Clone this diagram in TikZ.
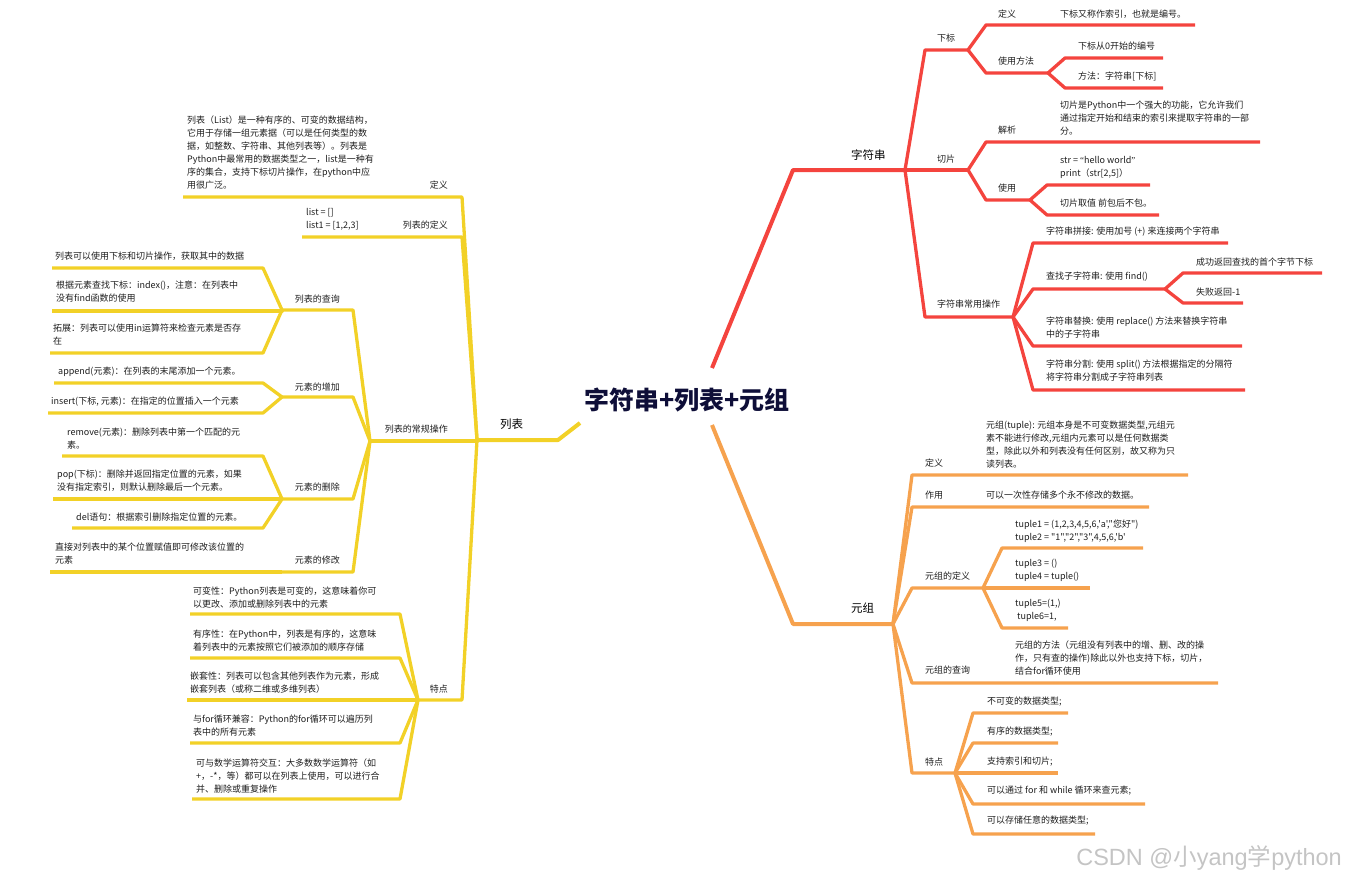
\documentclass[tikz,border=0pt]{standalone}
\usepackage{fontspec}
\setmainfont{Noto Sans CJK SC}
\newfontfamily\plainq{Noto Sans CJK SC}
\newfontfamily\wmfont{Liberation Sans}
\newfontfamily\qfont{Liberation Serif}
\definecolor{cR}{HTML}{F4443E}
\definecolor{cO}{HTML}{F6A24E}
\definecolor{cY}{HTML}{F2D127}
\definecolor{cT}{HTML}{1E1E1E}
\definecolor{cH}{HTML}{0E0E38}
\definecolor{cW}{HTML}{C4C4C4}
\newcommand\mmline[6]{\coordinate (#2-s) at (#3,#4);\coordinate (#2-e) at (#5,#4);\draw[#1] (#6) -- (#2-s) -- (#2-e);}
\tikzset{
  rl/.style={draw=cR, line width=3.3pt, line join=round},
  rm/.style={rl, line width=4pt},
  ol/.style={draw=cO, line width=3.3pt, line join=round},
  om/.style={ol, line width=4pt},
  yl/.style={draw=cY, line width=3.3pt, line join=round},
  ym/.style={yl, line width=4pt},
  txt/.style={text=cT, font=\fontsize{9}{13}\selectfont, inner sep=0pt, anchor=west, align=left},
  txl/.style={txt, anchor=east, align=right},
  tb/.style={txt, text=black, font=\fontsize{11.5}{14}\selectfont},
}
\begin{document}
\begin{tikzpicture}[x=1pt,y=-1pt]
\useasboundingbox (0,0) rectangle (1346,880);
\node[font=\bfseries\fontsize{25}{25}\selectfont, text=cH, inner sep=0pt] (T) at (687,400) {字符串+列表+元组};
% ===== red: 字符串 =====
\coordinate (R0) at (712,368); \coordinate (R1) at (793,170); \coordinate (R-e) at (905,170);
\draw[rm] (R0) -- (R1) -- (R-e);
\node[tb] (R-l) at (851,155) {字符串};
\mmline{rl}{Rxb}{925}{50}{968}{R-e}
\node[txt] (Rxb-l) at (937,38) {下标};
\mmline{rl}{Rxbdy}{986}{25}{1195}{Rxb-e}
\node[txt] (Rxbdy-l) at (998,14) {定义};
\node[txt] (Rxbdy-t) at (1060,14) {下标又称作索引，也就是编号。};
\mmline{rl}{Rxbff}{986}{73}{1048}{Rxb-e}
\node[txt] (Rxbff-l) at (998,61) {使用方法};
\mmline{rl}{Rxbff1}{1065}{58}{1163}{Rxbff-e}
\node[txt] (Rxbff1-t) at (1078,46) {下标从0开始的编号};
\mmline{rl}{Rxbff2}{1065}{88}{1163}{Rxbff-e}
\node[txt] (Rxbff2-t) at (1078,76) {方法：字符串[下标]};
\mmline{rl}{Rqp}{925}{170}{968}{R-e}
\node[txt] (Rqp-l) at (937,159) {切片};
\mmline{rl}{Rqpjx}{986}{142}{1260}{Rqp-e}
\node[txt] (Rqpjx-l) at (998,130) {解析};
\node[txt] (Rqpjx-t) at (1060,118.5) {切片是Python中一个强大的功能，它允许我们\\通过指定开始和结束的索引来提取字符串的一部\\分。};
\mmline{rl}{Rqpsy}{986}{200}{1030}{Rqp-e}
\node[txt] (Rqpsy-l) at (998,188) {使用};
\mmline{rl}{Rqpsy1}{1047}{185}{1150}{Rqpsy-e}
\node[txt] (Rqpsy1-t) at (1060,167) {str = {\qfont “}hello world{\qfont ”}\\print（str[2,5]）};
\mmline{rl}{Rqpsy2}{1047}{215}{1159}{Rqpsy-e}
\node[txt] (Rqpsy2-t) at (1060,203) {切片取值 前包后不包。};
\mmline{rl}{Rcy}{925}{317}{1013}{R-e}
\node[txt] (Rcy-l) at (937,304) {字符串常用操作};
\mmline{rl}{Rcy1}{1033}{243}{1228}{Rcy-e}
\node[txt] (Rcy1-t) at (1046,232) {字符串拼接: 使用加号 (+) 来连接两个字符串};
\mmline{rl}{Rcy2}{1033}{289}{1165}{Rcy-e}
\node[txt] (Rcy2-t) at (1046,277) {查找子字符串: 使用 find()};
\mmline{rl}{Rcy21}{1183}{273}{1322}{Rcy2-e}
\node[txt] (Rcy21-t) at (1196,262) {成功返回查找的首个字节下标};
\mmline{rl}{Rcy22}{1183}{303}{1243}{Rcy2-e}
\node[txt] (Rcy22-t) at (1196,292) {失败返回-1};
\mmline{rl}{Rcy3}{1033}{346}{1242}{Rcy-e}
\node[txt] (Rcy3-t) at (1046,328) {字符串替换: 使用 replace() 方法来替换字符串\\中的子字符串};
\mmline{rl}{Rcy4}{1033}{390}{1245}{Rcy-e}
\node[txt] (Rcy4-t) at (1046,371) {字符串分割: 使用 split() 方法根据指定的分隔符\\将字符串分割成子字符串列表};
% ===== orange: 元组 =====
\coordinate (O0) at (712,425); \coordinate (O1) at (793,624); \coordinate (O-e) at (893,624);
\draw[om] (O0) -- (O1) -- (O-e);
\node[tb] (O-l) at (851,608) {元组};
\mmline{ol}{Ody}{912}{475}{1188}{O-e}
\node[txt] (Ody-l) at (925,463) {定义};
\node[txt] (Ody-t) at (986,444.5) {元组(tuple): 元组本身是不可变数据类型,元组元\\素不能进行修改,元组内元素可以是任何数据类\\型，除此以外和列表没有任何区别，故又称为只\\读列表。};
\mmline{ol}{Ozy}{912}{507}{1149}{O-e}
\node[txt] (Ozy-l) at (925,495) {作用};
\node[txt] (Ozy-t) at (986,495) {可以一次性存储多个永不修改的数据。};
\mmline{ol}{Odf}{912}{588}{983}{O-e}
\node[txt] (Odf-l) at (925,576) {元组的定义};
\mmline{ol}{Odf1}{1002}{548}{1143}{Odf-e}
\node[txt, font=\plainq\fontsize{9}{13}\selectfont] (Odf1-t) at (1015,531) {tuple1 = (1,2,3,4,5,6,'a',"您好")\\tuple2 = "1","2","3",4,5,6,'b'};
\mmline{ol}{Odf2}{1000}{588}{1090}{Odf-e}
\node[txt] (Odf2-t) at (1015,570) {tuple3 = ()\\tuple4 = tuple()};
\mmline{ol}{Odf3}{1002}{628}{1068}{Odf-e}
\node[txt] (Odf3-t) at (1015,610) {tuple5=(1,)\\ \ tuple6=1,};
\mmline{ol}{Ocx}{912}{683}{1218}{O-e}
\node[txt] (Ocx-l) at (925,670) {元组的查询};
\node[txt] (Ocx-t) at (1015,658) {元组的方法（元组没有列表中的增、删、改的操\\作，只有查的操作)除此以外也支持下标，切片，\\结合for循环使用};
\mmline{ol}{Otd}{912}{773}{955}{O-e}
\node[txt] (Otd-l) at (925,762) {特点};
\mmline{ol}{Otd1}{973}{713}{1068}{Otd-e}
\node[txt] (Otd1-t) at (987,702) {不可变的数据类型;};
\mmline{ol}{Otd2}{973}{743}{1058}{Otd-e}
\node[txt] (Otd2-t) at (987,732) {有序的数据类型;};
\mmline{ol}{Otd3}{973}{773}{1058}{Otd-e}
\node[txt] (Otd3-t) at (987,762) {支持索引和切片;};
\mmline{ol}{Otd4}{973}{804}{1145}{Otd-e}
\node[txt] (Otd4-t) at (987,791) {可以通过 for 和 while 循环来查元素;};
\mmline{ol}{Otd5}{973}{834}{1095}{Otd-e}
\node[txt] (Otd5-t) at (987,821) {可以存储任意的数据类型;};
% ===== yellow: 列表 =====
\coordinate (Y0) at (580,423); \coordinate (Y1) at (558,440); \coordinate (Y-e) at (477,440);
\draw[ym] (Y0) -- (Y1) -- (Y-e);
\node[tb] (Y-l) at (500,424) {列表};
\mmline{yl}{Ydy}{462}{197}{183}{Y-e}
\node[txl] (Ydy-l) at (448,185) {定义};
\node[txt] (Ydy-t) at (187,153) {列表（List）是一种有序的、可变的数据结构，\\它用于存储一组元素据（可以是任何类型的数\\据，如整数、字符串、其他列表等）。列表是\\Python中最常用的数据类型之一，list是一种有\\序的集合，支持下标切片操作，在python中应\\用很广泛。};
\mmline{yl}{Ylb}{462}{237}{302}{Y-e}
\node[txl] (Ylb-l) at (448,225) {列表的定义};
\node[txt] (Ylb-t) at (306,219) {list = []\\list1 = [1,2,3]};
\mmline{yl}{Ycg}{477}{441}{370}{Y-e}
\node[txl] (Ycg-l) at (448,429) {列表的常规操作};
\mmline{yl}{Ycx}{353}{310}{282}{Ycg-e}
\node[txl] (Ycx-l) at (340,299) {列表的查询};
\mmline{yl}{Ycx1}{263}{268}{52}{Ycx-e}
\node[txt] (Ycx1-t) at (55,256) {列表可以使用下标和切片操作，获取其中的数据};
\mmline{yl}{Ycx2}{282}{311}{52}{Ycx-e}
\node[txt] (Ycx2-t) at (56,291.5) {根据元素查找下标：index()，注意：在列表中\\没有find函数的使用};
\mmline{yl}{Ycx3}{263}{353}{50}{Ycx-e}
\node[txt] (Ycx3-t) at (53,334.5) {拓展：列表可以使用in运算符来检查元素是否存\\在};
\mmline{yl}{Yzj}{353}{397}{282}{Ycg-e}
\node[txl] (Yzj-l) at (340,387) {元素的增加};
\mmline{yl}{Yzj1}{263}{383}{54}{Yzj-e}
\node[txt] (Yzj1-t) at (58,372) {append(元素)：在列表的末尾添加一个元素。};
\mmline{yl}{Yzj2}{263}{413}{48}{Yzj-e}
\node[txt] (Yzj2-t) at (51,402) {insert(下标, 元素)：在指定的位置插入一个元素};
\mmline{yl}{Ysc}{353}{499}{282}{Ycg-e}
\node[txl] (Ysc-l) at (340,487) {元素的删除};
\mmline{yl}{Ysc1}{263}{456}{62}{Ysc-e}
\node[txt] (Ysc1-t) at (67,438.5) {remove(元素)：删除列表中第一个匹配的元\\素。};
\mmline{yl}{Ysc2}{282}{499}{53}{Ysc-e}
\node[txt] (Ysc2-t) at (57,481) {pop(下标)：删除并返回指定位置的元素，如果\\没有指定索引，则默认删除最后一个元素。};
\mmline{yl}{Ysc3}{263}{528}{72}{Ysc-e}
\node[txt] (Ysc3-t) at (76,517) {del语句：根据索引删除指定位置的元素。};
\mmline{yl}{Yxg}{353}{572}{282}{Ycg-e}
\node[txl] (Yxg-l) at (340,560) {元素的修改};
\mmline{yl}{Yxg1}{282}{572}{50}{Yxg-e}
\node[txt] (Yxg1-t) at (55,553.5) {直接对列表中的某个位置赋值即可修改该位置的\\元素};
\mmline{yl}{Ytd}{462}{700}{418}{Y-e}
\node[txl] (Ytd-l) at (448,689) {特点};
\mmline{yl}{Ytd1}{400}{614}{190}{Ytd-e}
\node[txt] (Ytd1-t) at (193,597.5) {可变性：Python列表是可变的，这意味着你可\\以更改、添加或删除列表中的元素};
\mmline{yl}{Ytd2}{400}{658}{190}{Ytd-e}
\node[txt] (Ytd2-t) at (193,640.5) {有序性：在Python中，列表是有序的，这意味\\着列表中的元素按照它们被添加的顺序存储};
\mmline{yl}{Ytd3}{418}{700}{187}{Ytd-e}
\node[txt] (Ytd3-t) at (190,682.5) {嵌套性：列表可以包含其他列表作为元素，形成\\嵌套列表（或称二维或多维列表）};
\mmline{yl}{Ytd4}{400}{743}{190}{Ytd-e}
\node[txt] (Ytd4-t) at (193,725.5) {与for循环兼容：Python的for循环可以遍历列\\表中的所有元素};
\mmline{yl}{Ytd5}{400}{799}{192}{Ytd-e}
\node[txt] (Ytd5-t) at (196,776) {可与数学运算符交互：大多数数学运算符（如\\+，-*，等）都可以在列表上使用，可以进行合\\并、删除或重复操作};
% watermark
\node[text=cW, font=\fontsize{23.5}{23.5}\selectfont, inner sep=0pt, anchor=east] (W) at (1342,858) {{\wmfont CSDN @}小{\wmfont yang}学{\wmfont python}};
\end{tikzpicture}
\end{document}
